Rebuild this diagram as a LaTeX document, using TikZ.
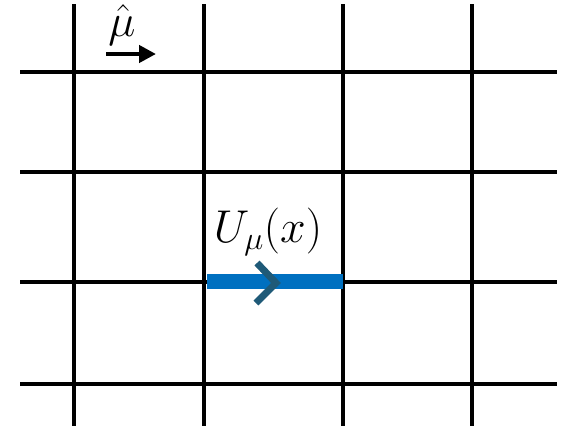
\RequirePackage{fix-cm}
\documentclass[tikz,border=0pt]{standalone}
\usetikzlibrary{arrows.meta}
\begin{document}
\begin{tikzpicture}[x=1pt,y=-1pt,
  gridline/.style={line width=4.5pt,black},
  linkline/.style={line width=15pt,color=linkblue},
  chevron/.style={line width=7pt,color=chevcol},
  dirarrow/.style={line width=4.5pt,-{Triangle[length=17pt,width=17pt]}},
  lbl/.style={inner sep=0pt,font=\fontsize{46}{54}\selectfont}]
\definecolor{linkblue}{RGB}{0,112,192}
\definecolor{chevcol}{RGB}{31,90,120}
\useasboundingbox (0,0) rectangle (575,426);
% vertical lines
\foreach \x [count=\i] in {74,204,343,472} {
  \coordinate (vt\i) at (\x,4);
  \coordinate (vb\i) at (\x,426);
  \draw[gridline] (vt\i) -- (vb\i);
}
% horizontal lines
\foreach \y [count=\j] in {72,172,282,384} {
  \coordinate (hl\j) at (20,\y);
  \coordinate (hr\j) at (557,\y);
  \draw[gridline] (hl\j) -- (hr\j);
}
% link
\coordinate (ls) at (207,281);
\coordinate (le) at (343,281);
\draw[linkline] (ls) -- (le);
\coordinate (c1) at (257,263);
\coordinate (c2) at (276,283);
\coordinate (c3) at (256,303);
\draw[chevron] (c1) -- (c2) -- (c3);
\node[lbl] (ulabel) at (268,232) {$U_{\mu}(x)$};
% direction
\node[lbl] (mulabel) at (122,25) {$\hat{\mu}$};
\coordinate (as) at (106,54);
\coordinate (ae) at (156,54);
\draw[dirarrow] (as) -- (ae);
\end{tikzpicture}
\end{document}
